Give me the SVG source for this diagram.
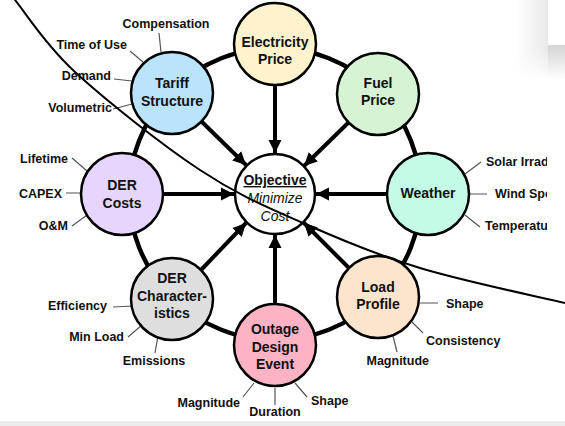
<svg xmlns="http://www.w3.org/2000/svg" width="565" height="426" viewBox="0 0 565 426">
<style>
.node{stroke:#000;stroke-width:2.5}
.nt{font-family:"Liberation Sans",Arial,sans-serif;font-weight:bold;font-size:14px;fill:#111;text-anchor:middle}
.lt{font-family:"Liberation Sans",Arial,sans-serif;font-weight:bold;font-size:12.5px;fill:#111}
.ll{stroke:#555;stroke-width:1.2;fill:none}
.spoke{stroke:#000;stroke-width:4;fill:none;marker-end:url(#ah)}
</style>
<defs>
<marker id="ah" markerUnits="userSpaceOnUse" markerWidth="14" markerHeight="14" refX="13" refY="7" orient="auto">
<path d="M0,0.5 L13,7 L0,13.5 z" fill="#000"/>
</marker>
<clipPath id="crop"><rect x="0" y="0" width="547" height="426"/></clipPath>
<linearGradient id="sh1" x1="0" y1="0" x2="1" y2="0">
<stop offset="0" stop-color="#fff"/><stop offset="1" stop-color="#e9e9e9"/>
</linearGradient>
<linearGradient id="sh2" x1="0" y1="0" x2="0" y2="1">
<stop offset="0" stop-color="#d4d4d4"/><stop offset="1" stop-color="#fff"/>
</linearGradient>
<linearGradient id="sh3" x1="0" y1="0" x2="0" y2="1">
<stop offset="0" stop-color="#fff" stop-opacity="0"/><stop offset="1" stop-color="#fff"/>
</linearGradient>
</defs>
<rect width="565" height="426" fill="#fff"/>
<rect x="515" y="0" width="33" height="80" fill="url(#sh1)"/>
<rect x="548" y="45" width="17" height="35" fill="url(#sh2)"/>
<rect x="515" y="50" width="33" height="30" fill="url(#sh3)"/>
<rect x="0" y="421" width="565" height="5" fill="#ebebeb"/>
<g id="ring"><circle cx="275" cy="194" r="146" fill="none" stroke="#000" stroke-width="4.5"/></g>
<g id="connectors">
<line class="spoke" x1="275" y1="84" x2="275" y2="153"/>
<line class="spoke" x1="349" y1="122" x2="304" y2="166"/>
<line class="spoke" x1="388" y1="194" x2="316" y2="194"/>
<line class="spoke" x1="349" y1="268" x2="304" y2="223"/>
<line class="spoke" x1="275" y1="305" x2="275" y2="235"/>
<line class="spoke" x1="201" y1="270" x2="246" y2="223"/>
<line class="spoke" x1="162" y1="194" x2="234" y2="194"/>
<line class="spoke" x1="201" y1="121" x2="246" y2="165"/>
</g>
<g id="label-lines">
<path class="ll" d="M159,33 L161,52 M130,51 L143,62 M114,79 L132,81 M113,109 L132,104"/>
<path class="ll" d="M72,158 L87,171 M66,193 L82,193 M72,226 L87,215"/>
<path class="ll" d="M465,174 L481,162 M469,194 L487,194 M465,215 L480,227"/>
<path class="ll" d="M420,303 L438,303 M412,322 L423,333 M393,336 L397,352"/>
<path class="ll" d="M243,397 L254,383 M275,388 L275,405 M295,383 L307,397"/>
<path class="ll" d="M113,307 L133,306 M128,337 L142,325 M155,353 L158,336"/>
</g>
<g id="objective">
<circle class="node" cx="275" cy="194" r="40" fill="#fff"/>
<text class="nt" x="275" y="185" text-decoration="underline">Objective</text>
<text class="nt" x="275" y="203" style="font-weight:normal;font-style:italic">Minimize</text>
<text class="nt" x="275" y="221" style="font-weight:normal;font-style:italic">Cost</text>
</g>
<g id="electricity-price">
<circle class="node" cx="275" cy="44" r="41" fill="#fff2cc"/>
<text class="nt" x="275" y="47">Electricity</text>
<text class="nt" x="275" y="64">Price</text>
</g>
<g id="fuel-price">
<circle class="node" cx="378" cy="94" r="41" fill="#d6f4d4"/>
<text class="nt" x="378" y="88">Fuel</text>
<text class="nt" x="378" y="105">Price</text>
</g>
<g id="weather">
<circle class="node" cx="428" cy="194" r="41" fill="#c4fbe6"/>
<text class="nt" x="428" y="198">Weather</text>
<g clip-path="url(#crop)">
<text class="lt" x="486" y="166">Solar Irrad</text>
<text class="lt" x="495" y="198">Wind Spe</text>
<text class="lt" x="485" y="230">Temperatu</text>
</g>
</g>
<g id="load-profile">
<circle class="node" cx="378" cy="297" r="41" fill="#fde4cc"/>
<text class="nt" x="378" y="292">Load</text>
<text class="nt" x="378" y="309">Profile</text>
<text class="lt" x="446" y="308">Shape</text>
<text class="lt" x="426" y="345">Consistency</text>
<text class="lt" x="429" y="365" text-anchor="end">Magnitude</text>
</g>
<g id="outage-design-event">
<circle class="node" cx="275" cy="345" r="41" fill="#fdb3c4"/>
<text class="nt" x="275" y="334">Outage</text>
<text class="nt" x="275" y="351.5">Design</text>
<text class="nt" x="275" y="369">Event</text>
<text class="lt" x="240" y="407" text-anchor="end">Magnitude</text>
<text class="lt" x="275" y="416" text-anchor="middle">Duration</text>
<text class="lt" x="311" y="405">Shape</text>
</g>
<g id="der-characteristics">
<circle class="node" cx="172" cy="299" r="41" fill="#dedede"/>
<text class="nt" x="172" y="283">DER</text>
<text class="nt" x="172" y="301">Character-</text>
<text class="nt" x="172" y="318">istics</text>
<text class="lt" x="107" y="310" text-anchor="end">Efficiency</text>
<text class="lt" x="124" y="341" text-anchor="end">Min Load</text>
<text class="lt" x="154" y="365" text-anchor="middle">Emissions</text>
</g>
<g id="der-costs">
<circle class="node" cx="122" cy="194" r="41" fill="#e6d5fd"/>
<text class="nt" x="122" y="190">DER</text>
<text class="nt" x="122" y="208">Costs</text>
<text class="lt" x="68" y="163" text-anchor="end">Lifetime</text>
<text class="lt" x="62" y="198" text-anchor="end">CAPEX</text>
<text class="lt" x="68" y="230" text-anchor="end">O&amp;M</text>
</g>
<g id="tariff-structure">
<circle class="node" cx="172" cy="93" r="41" fill="#bae3fc"/>
<text class="nt" x="172" y="88">Tariff</text>
<text class="nt" x="172" y="106">Structure</text>
<text class="lt" x="166" y="28" text-anchor="middle">Compensation</text>
<text class="lt" x="127" y="49" text-anchor="end">Time of Use</text>
<text class="lt" x="111" y="80" text-anchor="end">Demand</text>
<text class="lt" x="112" y="112" text-anchor="end">Volumetric</text>
</g>
<g id="boundary-curve">
<path d="M11,-5 L15,0 C25,12 44.2,43.7 75,72 C105.8,100.3 162,144.8 200,170 C238,195.2 266.3,206.7 303,223 C339.7,239.3 376.3,254.7 420,268 C463.7,281.3 540.8,297.2 567,303.5" fill="none" stroke="#000" stroke-width="2"/>
</g>
</svg>
